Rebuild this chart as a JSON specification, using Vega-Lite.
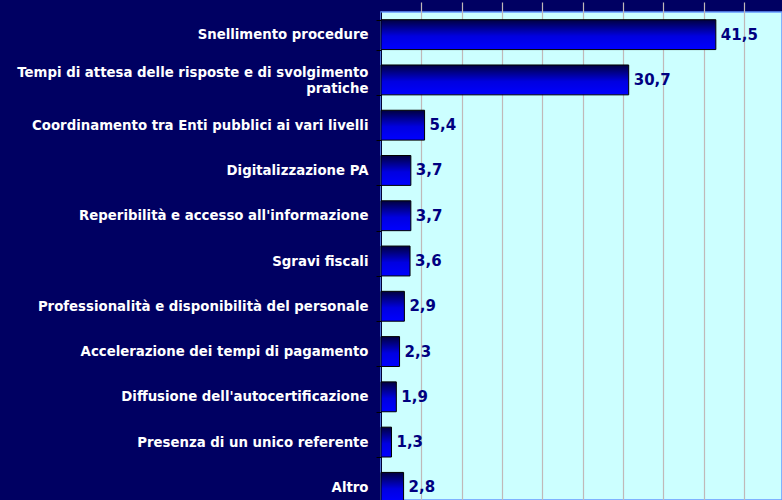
{
  "$schema": "https://vega.github.io/schema/vega-lite/v6.json",
  "autosize": "none",
  "width": 401,
  "height": 488,
  "padding": {"left": 381, "top": 12, "right": 0, "bottom": 0},
  "background": "#000062",
  "config": {
    "locale": {"number": {"decimal": ",", "thousands": ".", "grouping": [3], "currency": ["€", ""]}},
    "view": {"fill": "#CCFFFF", "stroke": "#6699FF", "strokeWidth": 1.5}
  },
  "data": {
    "values": [
      {"voce": "Snellimento procedure", "valore": 41.5},
      {"voce": "Tempi di attesa delle risposte e di svolgimento pratiche", "valore": 30.7},
      {"voce": "Coordinamento tra Enti pubblici ai vari livelli", "valore": 5.4},
      {"voce": "Digitalizzazione PA", "valore": 3.7},
      {"voce": "Reperibilità e accesso all'informazione", "valore": 3.7},
      {"voce": "Sgravi fiscali", "valore": 3.6},
      {"voce": "Professionalità e disponibilità del personale", "valore": 2.9},
      {"voce": "Accelerazione dei tempi di pagamento", "valore": 2.3},
      {"voce": "Diffusione dell'autocertificazione", "valore": 1.9},
      {"voce": "Presenza di un unico referente", "valore": 1.3},
      {"voce": "Altro", "valore": 2.8}
    ]
  },
  "encoding": {
    "y": {
      "field": "voce",
      "type": "nominal",
      "sort": null,
      "scale": {"range": [0, 498], "paddingInner": 0.34, "paddingOuter": 0.17},
      "axis": {
        "title": null,
        "tickBand": "extent",
        "grid": false,
        "domainColor": "#000033",
        "domainWidth": 1,
        "tickColor": "#000000",
        "tickSize": 5,
        "labelPadding": 8,
        "labelColor": "#FFFFFF",
        "labelFont": "DejaVu Sans",
        "labelFontWeight": "bold",
        "labelFontSize": 13.3,
        "labelLimit": 400,
        "labelLineHeight": 16,
        "labelOffset": {"condition": {"test": "datum.value == 'Tempi di attesa delle risposte e di svolgimento pratiche'", "value": -7}, "value": 0},
        "labelExpr": "datum.value == 'Tempi di attesa delle risposte e di svolgimento pratiche' ? ['Tempi di attesa delle risposte e di svolgimento', 'pratiche\u2007\u2007\u2007\u2007\u2007\u2007\u2007\u2007\u2007\u2007\u2007\u2007\u2007\u2007\u2007\u2007\u2007\u2007'] : datum.value"
      }
    },
    "x": {
      "field": "valore",
      "type": "quantitative",
      "scale": {"domain": [0, 49.7], "nice": false, "zero": true},
      "axis": {
        "title": null,
        "labels": false,
        "ticks": false,
        "domain": false,
        "grid": true,
        "values": [5, 10, 15, 20, 25, 30, 35, 40, 45],
        "gridColor": "#C0B8B8",
        "gridWidth": 1.2
      }
    }
  },
  "layer": [
    {
      "mark": {
        "type": "bar",
        "stroke": "#000000",
        "strokeWidth": 1,
        "color": {
          "gradient": "linear",
          "x1": 0, "y1": 0, "x2": 0, "y2": 1,
          "stops": [
            {"offset": 0, "color": "#000040"},
            {"offset": 0.55, "color": "#0000E0"},
            {"offset": 1, "color": "#0000FF"}
          ]
        }
      }
    },
    {
      "mark": {
        "type": "text",
        "align": "left",
        "baseline": "middle",
        "dx": 5,
        "font": "DejaVu Sans",
        "fontWeight": "bold",
        "fontSize": 15,
        "color": "#000080"
      },
      "encoding": {
        "text": {"field": "valore", "type": "quantitative", "format": ".1f"}
      }
    }
  ]
}
